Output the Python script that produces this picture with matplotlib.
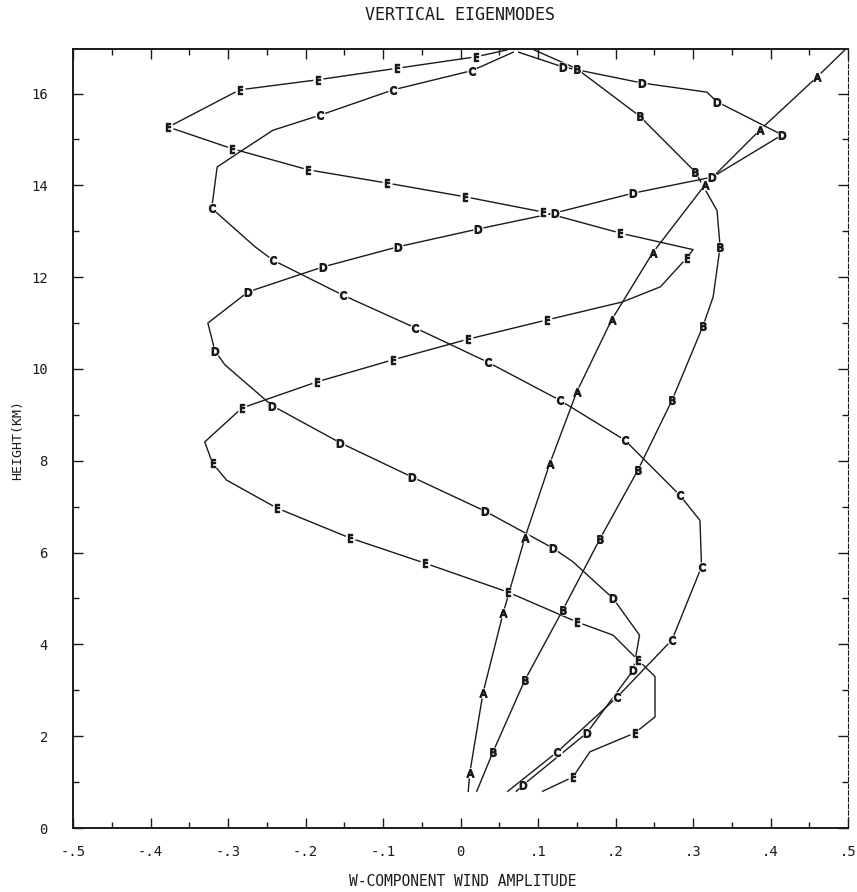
import matplotlib

matplotlib.use("Agg")

import matplotlib.pyplot as plt  # noqa: E402
from matplotlib.ticker import MultipleLocator  # noqa: E402

# ---------------------------------------------------------------- data
# mode A
A_amp = [0.010, 0.012, 0.029, 0.055, 0.083, 0.115, 0.150, 0.195, 0.248, 0.315, 0.386, 0.460, 0.496]
A_hgt = [0.80, 1.20, 2.94, 4.68, 6.32, 7.93, 9.50, 11.07, 12.53, 14.00, 15.20, 16.36, 16.95]
A_lab = [1, 2, 3, 4, 5, 6, 7, 8, 9, 10, 11]

# mode B
B_amp = [0.021, 0.042, 0.083, 0.132, 0.180, 0.229, 0.273, 0.313, 0.326, 0.335, 0.331, 0.303, 0.231, 0.150, 0.095]
B_hgt = [0.80, 1.66, 3.22, 4.75, 6.30, 7.80, 9.32, 10.94, 11.57, 12.66, 13.45, 14.29, 15.51, 16.54, 16.95]
B_lab = [1, 2, 3, 4, 5, 6, 7, 9, 11, 12, 13]

# mode C
C_amp = [0.061, 0.125, 0.202, 0.273, 0.311, 0.309, 0.283, 0.212, 0.128, 0.035, -0.059, -0.152, -0.242,
         -0.265, -0.321, -0.314, -0.281, -0.242, -0.181, -0.087, 0.015, 0.068]
C_hgt = [0.80, 1.66, 2.85, 4.10, 5.69, 6.70, 7.25, 8.45, 9.32, 10.15, 10.90, 11.61, 12.37,
         12.66, 13.50, 14.40, 14.77, 15.20, 15.53, 16.08, 16.50, 16.90]
C_lab = [1, 2, 3, 4, 6, 7, 8, 9, 10, 11, 12, 14, 18, 19, 20]

# mode D
D_amp = [0.072, 0.081, 0.163, 0.223, 0.231, 0.197, 0.145, 0.119, 0.032, -0.063, -0.155, -0.243, -0.304,
         -0.317, -0.326, -0.274, -0.178, -0.081, 0.023, 0.122, 0.223, 0.325, 0.415, 0.331, 0.318, 0.234,
         0.132, 0.075]
D_hgt = [0.80, 0.94, 2.07, 3.44, 4.20, 5.00, 5.80, 6.10, 6.90, 7.65, 8.39, 9.20, 10.09,
         10.40, 11.00, 11.68, 12.22, 12.66, 13.05, 13.40, 13.83, 14.18, 15.10, 15.82, 16.03, 16.23,
         16.58, 16.90]
D_lab = [1, 2, 3, 5, 7, 8, 9, 10, 11, 13, 15, 16, 17, 18, 19, 20, 21, 22, 23, 25, 26]

# mode E
E_amp = [0.106, 0.145, 0.167, 0.225, 0.251, 0.251, 0.229, 0.197, 0.150, 0.061, -0.046, -0.143, -0.237,
         -0.302, -0.320, -0.330, -0.282, -0.185, -0.087, 0.010, 0.112, 0.209, 0.258, 0.292, 0.300,
         0.206, 0.106, 0.006, -0.095, -0.197, -0.295, -0.377, -0.285, -0.184, -0.082, 0.020, 0.060]
E_hgt = [0.80, 1.11, 1.66, 2.07, 2.42, 3.30, 3.66, 4.20, 4.49, 5.14, 5.77, 6.32, 6.97,
         7.58, 7.95, 8.41, 9.15, 9.72, 10.20, 10.65, 11.07, 11.46, 11.79, 12.42, 12.60,
         12.96, 13.42, 13.75, 14.05, 14.34, 14.80, 15.27, 16.08, 16.30, 16.55, 16.80, 16.95]
E_lab = [1, 3, 6, 8, 9, 10, 11, 12, 14, 16, 17, 18, 19, 20, 23, 25, 26, 27, 28, 29, 30, 31, 32, 33, 34, 35]

MODES = ["A", "B", "C", "D", "E"]
X_TICKS = [-0.5, -0.4, -0.3, -0.2, -0.1, 0.0, 0.1, 0.2, 0.3, 0.4, 0.5]
X_LABELS = ["-.5", "-.4", "-.3", "-.2", "-.1", "0", ".1", ".2", ".3", ".4", ".5"]
Y_TICKS = [0, 2, 4, 6, 8, 10, 12, 14, 16]

INK = "#1a1a1a"
FONT = "DejaVu Sans Mono"

W, H = 857, 892
fig = plt.figure(figsize=(W / 100, H / 100), dpi=100)
ax = fig.add_axes([73 / W, 1 - 828 / H, 775 / W, 779 / H])

series = {
    "A": (A_amp, A_hgt, A_lab),
    "B": (B_amp, B_hgt, B_lab),
    "C": (C_amp, C_hgt, C_lab),
    "D": (D_amp, D_hgt, D_lab),
    "E": (E_amp, E_hgt, E_lab),
}

for name in MODES:
    xs, ys, lab = series[name]
    ax.plot(xs, ys, color=INK, lw=1.0, zorder=2)
    lx = [xs[i] for i in lab]
    ly = [ys[i] for i in lab]
    # white blob so the line breaks round each letter, like the plotter did
    ax.plot(lx, ly, ls="none", marker="o", ms=7.5, mfc="white", mec="none", zorder=3)
    ax.plot(lx, ly, ls="none", marker=f"$\\mathrm{{{name}}}$", ms=5.5, color=INK, zorder=4)

ax.set_xlim(-0.5, 0.5)
ax.set_ylim(0, 16.97)

ax.set_xticks(X_TICKS)
ax.set_xticklabels(X_LABELS)
ax.xaxis.set_minor_locator(MultipleLocator(0.05))
ax.set_yticks(Y_TICKS)
ax.yaxis.set_minor_locator(MultipleLocator(1))

ax.tick_params(which="both", direction="in", top=True, right=True, color=INK, width=1.0)
ax.tick_params(which="major", length=7)
ax.tick_params(which="minor", length=4)
ax.tick_params(axis="x", which="major", pad=12, labelsize=10, labelcolor=INK)
ax.tick_params(axis="y", which="major", pad=18, labelsize=10, labelcolor=INK)
for lbl in ax.get_xticklabels() + ax.get_yticklabels():
    lbl.set_family(FONT)

for sp in ax.spines.values():
    sp.set_linewidth(1.4)
    sp.set_color(INK)
# the right frame line came out faint and broken on the scan
ax.spines["right"].set_linewidth(0.8)
ax.spines["right"].set_linestyle((0, (4, 2)))

fig.text(460 / W, 1 - 15 / H, "VERTICAL EIGENMODES", ha="center", va="center",
         fontsize=12, family=FONT, color=INK)
fig.text(463 / W, 1 - 882 / H, "W-COMPONENT WIND AMPLITUDE", ha="center", va="center",
         fontsize=10.5, family=FONT, color=INK)
fig.text(18 / W, 1 - 440 / H, "HEIGHT(KM)", ha="center", va="center", rotation=90,
         fontsize=9.5, family=FONT, color=INK)

fig.savefig("out.png", dpi=100, facecolor="white")
